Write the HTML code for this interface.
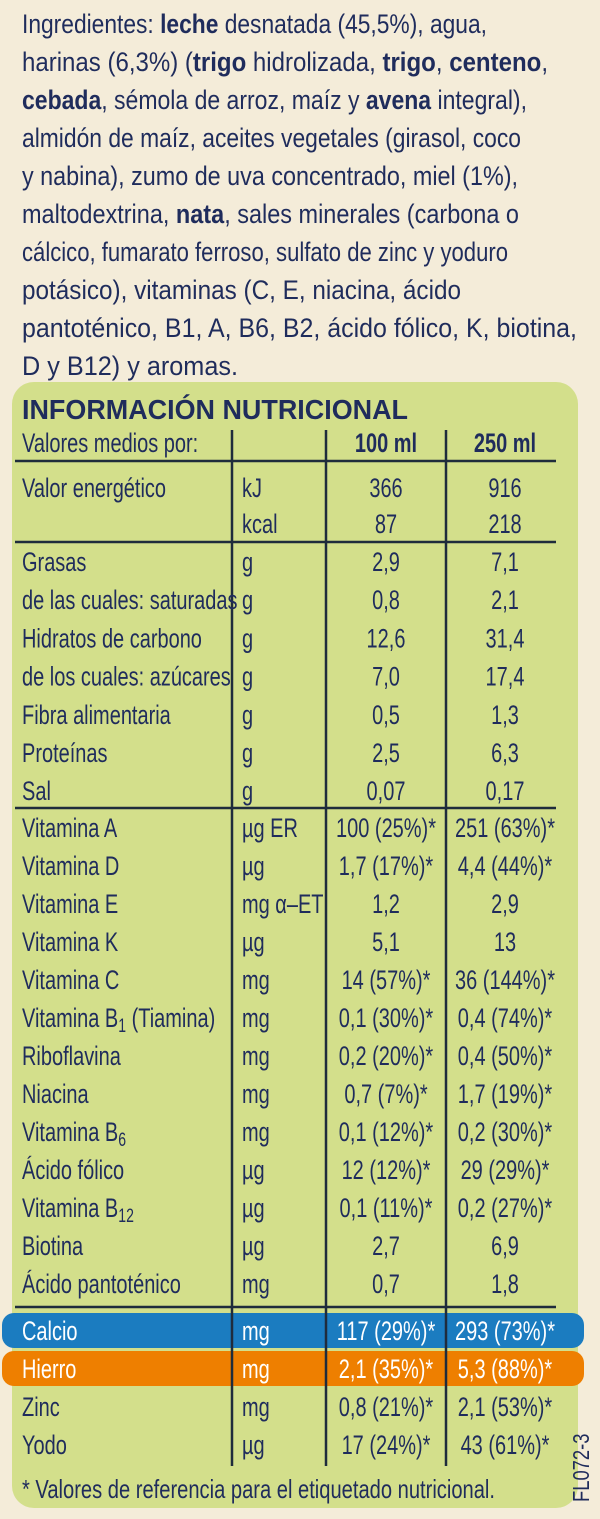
<!DOCTYPE html>
<html><head><meta charset="utf-8">
<style>
html,body{margin:0;padding:0;background:#f4ecd9;}
svg{display:block;}
text{fill:#1f2c5c;font-family:"Liberation Sans",sans-serif;}
.ing{font-size:27px;}
.b{font-weight:bold;}
</style></head>
<body>
<svg id="lbl" width="600" height="1519" viewBox="0 0 600 1519" xmlns="http://www.w3.org/2000/svg">
<rect width="600" height="1519" fill="#f4ecd9"/>
<g id="ingredients"></g>
<rect x="12" y="382" width="566" height="1126" rx="22" fill="#d3df8b"/>
<rect x="2" y="1313" width="582" height="35" rx="12" fill="#1b7cc0"/>
<rect x="2" y="1351" width="582" height="35" rx="12" fill="#ee7f00"/>
<text x="22" y="419" font-weight="bold" font-size="28" textLength="386" lengthAdjust="spacingAndGlyphs">INFORMACIÓN NUTRICIONAL</text>
<g id="grid" stroke="#1f2c3c" stroke-width="2.5">
<line x1="232" y1="430" x2="232" y2="1466"/>
<line x1="326" y1="430" x2="326" y2="1466"/>
<line x1="446" y1="430" x2="446" y2="1466"/>
<line x1="15" y1="461" x2="556" y2="461"/>
<line x1="15" y1="542" x2="556" y2="542"/>
<line x1="15" y1="808" x2="556" y2="808"/>
<line x1="15" y1="1307" x2="556" y2="1307"/>
</g>
<g id="rows"></g>
<text x="22" y="1498" font-size="26" textLength="473" lengthAdjust="spacingAndGlyphs">* Valores de referencia para el etiquetado nutricional.</text>
<text transform="translate(589,1502) rotate(-90) scale(0.8,1)" font-size="23">FL072-3</text>
</svg>
<script>
const ingLines = [
 [["Ingredientes: ",0],["leche",1],[" desnatada (45,5%), agua,",0]],
 [["harinas (6,3%) (",0],["trigo",1],[" hidrolizada, ",0],["trigo",1],[", ",0],["centeno",1],[",",0]],
 [["cebada",1],[", sémola de arroz, maíz y ",0],["avena",1],[" integral),",0]],
 [["almidón de maíz, aceites vegetales (girasol, coco",0]],
 [["y nabina), zumo de uva concentrado, miel (1%),",0]],
 [["maltodextrina, ",0],["nata",1],[", sales minerales (carbona o",0]],
 [["cálcico, fumarato ferroso, sulfato de zinc y yoduro",0]],
 [["potásico), vitaminas (C, E, niacina, ácido",0]],
 [["pantoténico, B1, A, B6, B2, ácido fólico, K, biotina,",0]],
 [["D y B12) y aromas.",0]]
];
const ingEnds = [487,548,527,521,518,519,508,461,577,238];
const NS="http://www.w3.org/2000/svg";
const ig=document.getElementById('ingredients');
ingLines.forEach((segs,i)=>{
 const t=document.createElementNS(NS,'text');
 t.setAttribute('class','ing');
 t.setAttribute('x',22);t.setAttribute('y',33+i*38);
 t.setAttribute('textLength',ingEnds[i]-22);
 t.setAttribute('lengthAdjust','spacingAndGlyphs');
 
 
 segs.forEach(s=>{const sp=document.createElementNS(NS,'tspan');if(s[1])sp.setAttribute('class','b');sp.textContent=s[0];t.appendChild(sp);});
 ig.appendChild(t);
});

const nutrients=["Valor energético","","Grasas","de las cuales: saturadas","Hidratos de carbono","de los cuales: azúcares","Fibra alimentaria","Proteínas","Sal","Vitamina A","Vitamina D","Vitamina E","Vitamina K","Vitamina C","Vitamina B|1| (Tiamina)","Riboflavina","Niacina","Vitamina B|6|","Ácido fólico","Vitamina B|12|","Biotina","Ácido pantoténico","Calcio","Hierro","Zinc","Yodo"];
const units=["kJ","kcal","g","g","g","g","g","g","g","µg ER","µg","mg α–ET","µg","mg","mg","mg","mg","mg","µg","µg","µg","mg","mg","mg","mg","µg"];
const per100=["366","87","2,9","0,8","12,6","7,0","0,5","2,5","0,07","100 (25%)*","1,7 (17%)*","1,2","5,1","14 (57%)*","0,1 (30%)*","0,2 (20%)*","0,7 (7%)*","0,1 (12%)*","12 (12%)*","0,1 (11%)*","2,7","0,7","117 (29%)*","2,1 (35%)*","0,8 (21%)*","17 (24%)*"];
const per250=["916","218","7,1","2,1","31,4","17,4","1,3","6,3","0,17","251 (63%)*","4,4 (44%)*","2,9","13","36 (144%)*","0,4 (74%)*","0,4 (50%)*","1,7 (19%)*","0,2 (30%)*","29 (29%)*","0,2 (27%)*","6,9","1,8","293 (73%)*","5,3 (88%)*","2,1 (53%)*","43  (61%)*"];
const rowsG=document.getElementById('rows');
const SX=0.74;
function rowY(i){ if(i<=1) return 497+i*36; if(i<=8) return 571+(i-2)*38.2; if(i<=21) return 837+(i-9)*38; return 1340+(i-22)*38; }
function addText(x,y,str,anchor,fill,name,bold){
 const t=document.createElementNS(NS,'text');
 t.setAttribute('x',0);t.setAttribute('y',0);t.setAttribute('font-size','27');
 t.setAttribute('transform','translate('+x+','+y+') scale('+SX+',1)');
 if(anchor)t.setAttribute('text-anchor',anchor);
 if(bold)t.setAttribute('font-weight','bold');
 if(fill)t.style.fill=fill;
 
 
 const parts=str.split('|');
 parts.forEach((p,k)=>{const sp=document.createElementNS(NS,'tspan');sp.textContent=p;
  if(k%2==1){sp.setAttribute('font-size','19');sp.setAttribute('dy','5');}
  else if(k>0){sp.setAttribute('dy','-5');}
  t.appendChild(sp);});
 rowsG.appendChild(t);
}
addText(22,452,"Valores medios por:",null,null,'header-label');
addText(386,452,"100 ml",'middle',null,'header-100ml',true);
addText(505,452,"250 ml",'middle',null,'header-250ml',true);
nutrients.forEach((n,i)=>{
 const y=rowY(i); const f=(i===22||i===23)?'#ffffff':null;
 if(n) addText(22,y,n,null,f,'nutrient-name');
 addText(242,y,units[i],null,f,'nutrient-unit');
 addText(386,y,per100[i],'middle',f,'value-100ml');
 addText(505,y,per250[i],'middle',f,'value-250ml');
});
</script>
</body></html>
